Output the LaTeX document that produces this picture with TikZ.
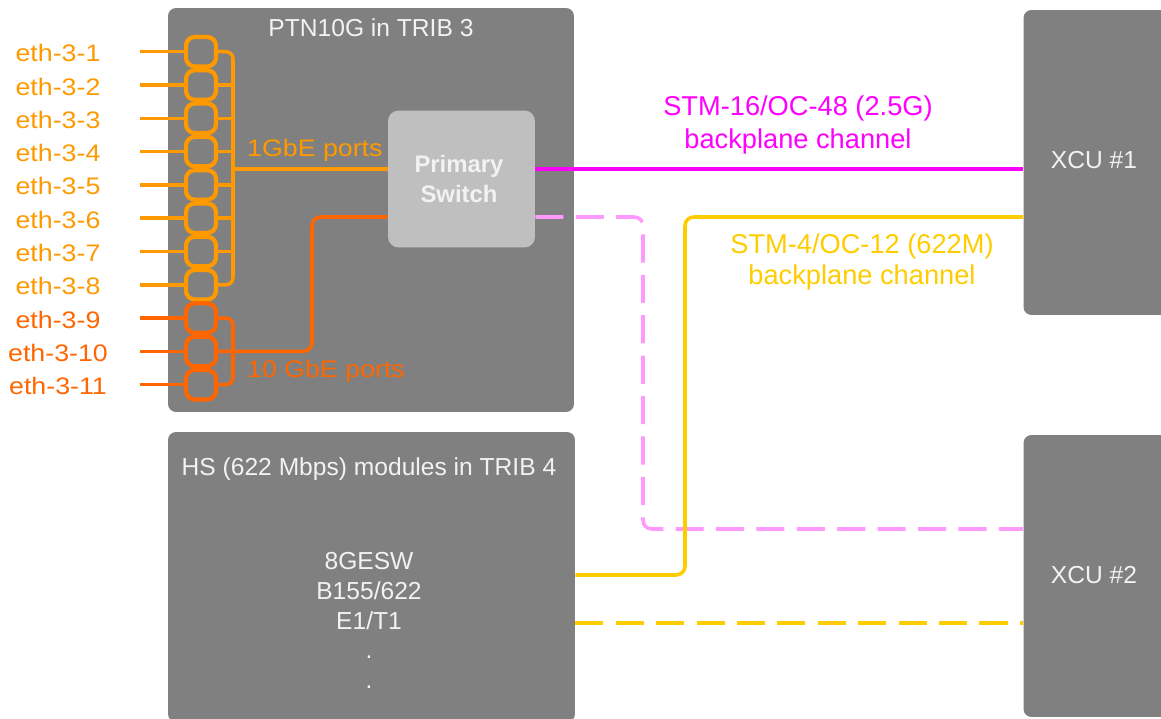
\documentclass[tikz,border=0pt]{standalone}
\usepackage{fontspec}
\setmainfont{Liberation Sans}
\newfontfamily\wide[FakeStretch=1.12]{Liberation Sans}
\definecolor{boxgray}{HTML}{808080}
\definecolor{swgray}{HTML}{BFBFBF}
\definecolor{txtw}{HTML}{F2F2F2}
\definecolor{ora}{HTML}{FF9900}
\definecolor{dora}{HTML}{FF6600}
\definecolor{mag}{HTML}{FF00FF}
\definecolor{pnk}{HTML}{FF99FF}
\definecolor{yel}{HTML}{FFCC00}
\tikzset{
  card/.style={fill=boxgray, draw=none, rounded corners=4.5pt, inner sep=0pt},
  swbox/.style={fill=swgray, draw=none, rounded corners=6pt, minimum width=2.94cm, minimum height=2.74cm, inner sep=0pt},
  port/.style={draw=#1, line width=2.4pt, fill=boxgray, rounded corners=5pt, minimum width=0.6cm, minimum height=0.59cm, inner sep=0pt},
  wire/.style={draw=#1, line width=2pt},
  ethlab/.style={text=#1, font=\wide\fontsize{13.6}{15}\selectfont, anchor=center},
  boxtitle/.style={text=txtw, font=\fontsize{14}{17}\selectfont},
  chlab/.style={text=#1, font=\fontsize{15.5}{18}\selectfont, align=center},
}
\begin{document}
\begin{tikzpicture}[x=0.02cm, y=-0.02cm]
\useasboundingbox (0,0) rectangle (1161,719);
% boxes
\node[card, minimum width=8.12cm, minimum height=8.08cm] (ptn) at (371,210) {};
\node[card, minimum width=8.14cm, minimum height=5.80cm] (hs) at (371.5,577) {};
\node[card, minimum width=2.90cm, minimum height=6.10cm] (x1) at (1096,162.5) {};
\node[card, minimum width=2.90cm, minimum height=5.64cm] (x2) at (1096,576) {};
\node[boxtitle] (ptnt) at (371,28) {PTN10G in TRIB 3};
\node[boxtitle] (hst) at (369,469) {HS (622 Mbps) modules in TRIB 4};
\node[boxtitle, align=center] (hsl) at (369,591) {8GESW\\B155/622\\E1/T1};
\node[boxtitle] (d1) at (369,657) {.};
\node[boxtitle] (d2) at (369,687) {.};
\node[boxtitle] (x1t) at (1094,160) {XCU \#1};
\node[boxtitle] (x2t) at (1094,575) {XCU \#2};
% switch
\node[swbox] (sw) at (461.5,179) {};
\node[text=txtw, font=\bfseries\fontsize{13.6}{17}\selectfont, align=center] (swt) at (459,179) {Primary\\Switch};
% coordinates
\coordinate (y1g) at (0,169);
\coordinate (y10g) at (0,217);
\coordinate (ypk) at (0,529);
\coordinate (yys) at (0,575);
\coordinate (yyd) at (0,623);
\coordinate (yyt) at (0,217);
% ports
\foreach \i in {1,...,11}{
  \pgfmathsetmacro{\yy}{51.7+33.3*(\i-1)}
  \ifnum\i<9
    \def\pc{ora}
  \else
    \def\pc{dora}
  \fi
  \coordinate (in\i) at (140,\yy);
  \draw[wire=\pc] (in\i) -- (201,\yy);
  \node[port=\pc] (p\i) at (201,\yy) {};
  \node[ethlab=\pc] (l\i) at (58,\yy+1.5) {eth-3-\i};
}
% 1GbE bus
\coordinate (b1) at (233,51.7);
\coordinate (b8) at (233,284.8);
\coordinate (bj) at (233,169);
\draw[wire=ora, rounded corners=4pt] (p1.east) -- (b1) -- (b8) -- (p8.east);
\foreach \i in {2,...,7}{ \draw[wire=ora] (p\i.east) -- (p\i.east -| b1); }
\draw[wire=ora] (bj) -- (sw.west |- y1g);
\node[text=ora, font=\wide\fontsize{13.6}{15}\selectfont, anchor=west] (l1g) at (241,150) {1GbE ports};
% 10GbE bus
\coordinate (b9) at (233,318.1);
\coordinate (b11) at (233,384.7);
\coordinate (b10) at (233,351.4);
\draw[wire=dora, rounded corners=4pt] (p9.east) -- (b9) -- (b11) -- (p11.east);
\draw[wire=dora] (p10.east) -- (b10);
\draw[wire=dora, rounded corners=5pt] (b10) -- (312,351.4) -- (312,217) -- (sw.west |- y10g);
\node[text=dora, font=\wide\fontsize{13.6}{15}\selectfont, anchor=west] (l10g) at (241,371) {10 GbE ports};
% backplane channels
\draw[wire=mag] (sw.east |- y1g) -- (x1.west |- y1g);
\node[chlab=mag] (stm16) at (798,125) {STM-16/OC-48 (2.5G)\\[1pt]backplane channel};
\draw[wire=pnk, dash pattern=on 16pt off 7pt, rounded corners=5pt] (sw.east |- y10g) -- (643,217) -- (643,529) -- (x2.west |- ypk);
\draw[wire=yel, rounded corners=5pt] (hs.east |- yys) -- (685,575) -- (685,217) -- (x1.west |- yyt);
\node[chlab=yel] (stm4) at (862,262) {STM-4/OC-12 (622M)\\backplane channel};
\draw[wire=yel, dash pattern=on 16pt off 7pt] (hs.east |- yyd) -- (x2.west |- yyd);
\end{tikzpicture}
\end{document}
